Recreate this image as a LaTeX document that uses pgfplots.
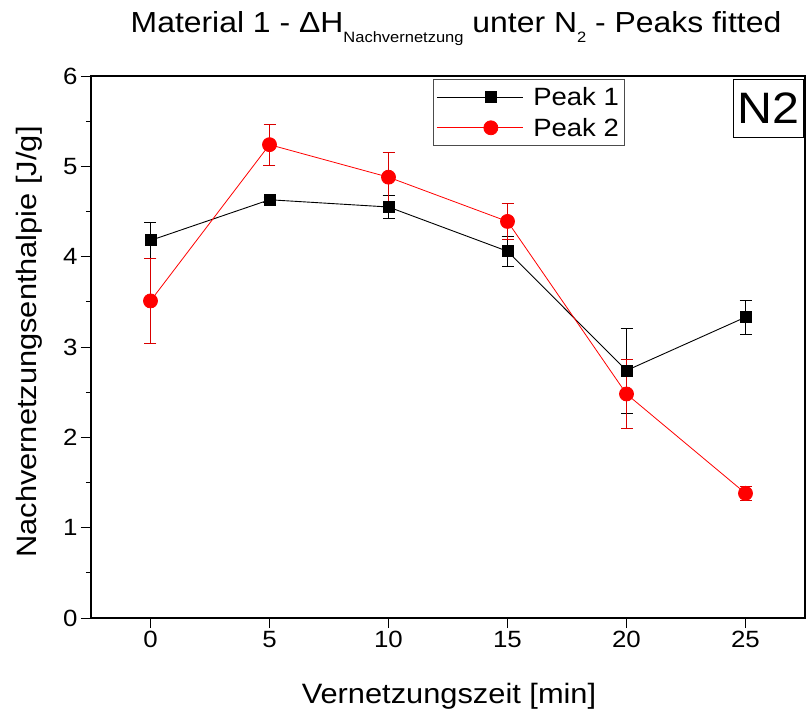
\documentclass[border=0pt]{standalone}
\usepackage{pgfplots}
\usepackage{pgfplotstable}
\pgfplotsset{compat=1.18}
\usepackage{fontspec}
\setmainfont{Liberation Sans}[FakeStretch=1.1]

\pgfplotstableread{
x y e
0 4.18 0.20
5 4.63 0.03
10 4.55 0.13
15 4.06 0.17
20 2.74 0.47
25 3.33 0.19
}\peakone
\pgfplotstableread{
x y e
0 3.51 0.47
5 5.24 0.23
10 4.88 0.28
15 4.39 0.20
20 2.48 0.38
25 1.38 0.08
}\peaktwo

\begin{document}
\begin{tikzpicture}[x=1pt,y=1pt]
\begin{axis}[
  at={(0,0)}, anchor=south west,
  scale only axis, width=714pt, height=542pt,
  xmin=-2.5, xmax=27.5, ymin=0, ymax=6,
  xtick={0,5,10,15,20,25}, ytick={0,1,2,3,4,5,6},
  minor y tick num=1,
  xtick pos=bottom, ytick pos=left,
  tick align=outside,
  major tick length=10pt, minor tick length=5pt,
  axis line style={line width=1.5pt},
  every tick/.style={line width=1pt, black},
  tick label style={font=\fontsize{23.5}{24}\selectfont},
  /pgf/number format/assume math mode=true,
  xlabel={Vernetzungszeit [min]},
  ylabel={Nachvernetzungsenthalpie [J/g]},
  label style={font=\fontsize{28}{28}\selectfont},
  xlabel style={at={(rel axis cs:0.5,0)}, anchor=base, yshift=-85pt, xshift=1pt},
  ylabel style={at={(rel axis cs:0,0.5)}, anchor=center, yshift=62pt, xshift=5pt},
  title={Material 1 - ΔH\raisebox{-10pt}{\fontsize{15}{15}\selectfont Nachvernetzung} unter N\raisebox{-10pt}{\fontsize{15}{15}\selectfont 2} - Peaks fitted},
  title style={at={(rel axis cs:0.5,1)}, anchor=base, yshift=38pt, xshift=8pt, font=\fontsize{29}{29}\selectfont},
  legend style={at={(rel axis cs:0.479,0.9945)}, anchor=north west,
    font=\fontsize{25}{25}\selectfont, draw=black!70, line width=0.8pt,
    inner xsep=3pt, inner ysep=6pt, row sep=7pt},
  legend cell align=left,
  legend image code/.code={\path (0pt,0pt) -- (86pt,0pt); \draw[mark repeat=2,mark phase=2] plot coordinates {(24pt,0pt) (54pt,0pt) (84pt,0pt)};},
]
\addplot[black, line width=0.9pt, mark=square*, mark size=5.5pt, mark options={solid},
  error bars/.cd, y dir=both, y explicit, error bar style={line width=0.7pt, black},
  error mark options={rotate=90, mark size=6pt, line width=0.7pt}]
  table[x=x, y=y, y error=e] {\peakone};
\addlegendentry{\hspace{8pt}Peak 1}
\addplot[red, line width=0.8pt, mark=*, mark size=7pt, mark options={solid, fill=red, draw=red},
  error bars/.cd, y dir=both, y explicit, error bar style={line width=0.7pt, red!85!black},
  error mark options={rotate=90, mark size=6pt, line width=0.7pt, red!85!black}]
  table[x=x, y=y, y error=e] {\peaktwo};
\addlegendentry{\hspace{8pt}Peak 2}
\node[draw, line width=0.9pt, font=\fontsize{44}{44}\selectfont, minimum width=70pt,
  minimum height=58pt, anchor=north east, inner sep=0pt, fill=white]
  at (rel axis cs:1,1) [xshift=-1pt, yshift=-3pt] {N2};
\end{axis}
\pgfresetboundingbox
\useasboundingbox (-91,-98) rectangle (715,618);
\end{tikzpicture}
\end{document}
